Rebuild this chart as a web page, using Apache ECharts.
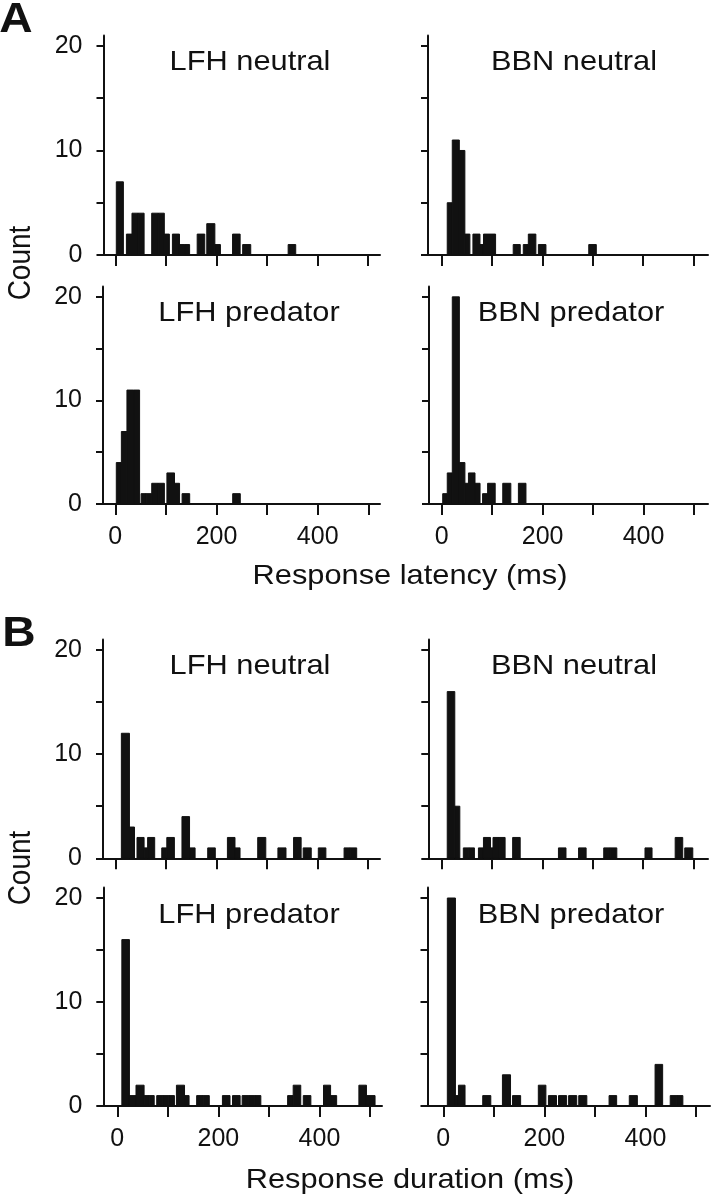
<!DOCTYPE html>
<html><head><meta charset="utf-8">
<script src="https://cdn.jsdelivr.net/npm/echarts@6/dist/echarts.min.js"></script>
<style>html,body{margin:0;padding:0;background:#fff}#c{width:711px;height:1199px}</style>
</head><body><div id="c"></div>
<script>
// Histogram bins: [bin start (ms), bin end (ms), count]
const latencyLfhNeutral = [[2,16,7],[22,33,2],[33,45,4],[45,57,4],[72,85,4],[85,97,4],[97,107,2],[113,127,2],[127,137,1],[137,147,1],[162,177,2],[181,197,3],[197,208,1],[232,247,2],[252,268,1],[342,357,1]];
const latencyBbnNeutral = [[11,21,5],[21,35,11],[35,46,10],[46,56,2],[62,76,2],[76,83,1],[83,107,2],[142,156,1],[162,172,1],[172,187,2],[192,207,1],[292,307,1]];
const latencyLfhPredator = [[2,12,4],[12,23,7],[23,36,11],[36,48,11],[51,61,1],[61,72,1],[72,85,2],[85,97,2],[102,117,3],[117,127,2],[132,147,1],[232,247,1]];
const latencyBbnPredator = [[2,11,1],[11,21,3],[21,35,20],[35,46,4],[46,53,2],[53,66,3],[66,76,2],[81,91,1],[91,106,2],[121,137,2],[152,167,2]];
const durationLfhNeutral = [[12,28,12],[28,38,3],[43,57,2],[57,64,1],[64,78,2],[92,102,1],[102,117,2],[132,147,4],[147,158,1],[183,198,1],[222,237,2],[237,247,1],[282,298,2],[322,338,1],[353,368,2],[372,388,1],[402,417,1],[453,465,1],[465,478,1]];
const durationBbnNeutral = [[11,26,16],[26,36,5],[43,54,1],[54,65,1],[73,83,1],[83,97,2],[97,102,1],[102,114,2],[114,126,2],[141,156,2],[232,247,1],[272,287,1],[322,335,1],[335,348,1],[404,418,1],[464,479,2],[483,499,1]];
const durationLfhPredator = [[9,24,16],[24,37,1],[37,53,2],[53,63,1],[63,73,1],[78,90,1],[90,102,1],[102,113,1],[117,133,2],[133,142,1],[157,170,1],[170,182,1],[208,223,1],[228,243,1],[247,260,1],[260,272,1],[272,284,1],[337,348,1],[348,363,2],[368,383,1],[408,422,2],[422,434,1],[478,493,2],[493,510,1]];
const durationBbnPredator = [[8,24,20],[24,30,1],[30,43,2],[78,94,1],[117,133,3],[137,153,1],[188,203,2],[208,224,1],[228,244,1],[248,264,1],[268,284,1],[328,343,1],[368,384,1],[419,434,4],[449,462,1],[462,474,1]];

const panelTitles = ['LFH neutral', 'BBN neutral', 'LFH predator', 'BBN predator'];
const xTickValues = [0, 100, 200, 300, 400, 500];
const xLabelValues = [0, 200, 400];
const yTickValues = [0, 5, 10, 15, 20];
const yLabelValues = [0, 10, 20];
const yMax = 21;
const xTitles = ['Response latency (ms)', 'Response duration (ms)'];
const yTitle = 'Count';
const panelLetters = ['A', 'B'];

const FONT = '"Liberation Sans", Arial, sans-serif';
const INK = '#111';

// layout (pixels)
const panels = [
  {data: latencyLfhNeutral,  title: panelTitles[0], axisPx: 103.5, zeroPx: 115.3, px500: 368, endPx: 380, zeroY: 255,   topY: 35.5, xl: false, yl: true,  tx: 250, ty: 62},
  {data: latencyBbnNeutral,  title: panelTitles[1], axisPx: 428,   zeroPx: 441.7, px500: 693.5, endPx: 708, zeroY: 255, topY: 35.5, xl: false, yl: false, tx: 574, ty: 62},
  {data: latencyLfhPredator, title: panelTitles[2], axisPx: 103,   zeroPx: 115.3, px500: 368.3, endPx: 380, zeroY: 504, topY: 286.5, xl: true,  yl: true,  tx: 249, ty: 313},
  {data: latencyBbnPredator, title: panelTitles[3], axisPx: 429,   zeroPx: 441.7, px500: 694, endPx: 708, zeroY: 504,   topY: 286.5, xl: true,  yl: false, tx: 571, ty: 313},
  {data: durationLfhNeutral,  title: panelTitles[0], axisPx: 103, zeroPx: 115.3, px500: 367.8, endPx: 380, zeroY: 858.3, topY: 639.5, xl: false, yl: true,  tx: 250, ty: 666},
  {data: durationBbnNeutral,  title: panelTitles[1], axisPx: 428.3, zeroPx: 441.7, px500: 693.3, endPx: 708, zeroY: 858.3, topY: 639.5, xl: false, yl: false, tx: 574, ty: 666},
  {data: durationLfhPredator, title: panelTitles[2], axisPx: 103.3, zeroPx: 117.3, px500: 370, endPx: 382, zeroY: 1106, topY: 887.6, xl: true,  yl: true,  tx: 249, ty: 915},
  {data: durationBbnPredator, title: panelTitles[3], axisPx: 427.5, zeroPx: 443.3, px500: 696, endPx: 710, zeroY: 1106, topY: 887.6, xl: true,  yl: false, tx: 571, ty: 915}
];

const grids = [], xAxes = [], yAxes = [], series = [];
const graphics = [];

panels.forEach((p, i) => {
  const s = (p.px500 - p.zeroPx) / 500;
  const xmin = (p.axisPx - p.zeroPx) / s;
  const xmax = (p.endPx - p.zeroPx) / s;
  grids.push({left: p.axisPx, top: p.topY, width: p.endPx - p.axisPx, height: p.zeroY - p.topY, containLabel: false, outerBoundsMode: 'none'});
  xAxes.push({
    type: 'value', gridIndex: i, min: xmin, max: xmax, position: 'bottom',
    axisLine: {show: true, onZero: false, lineStyle: {color: INK, width: 2}},
    axisTick: {show: true, length: 11, customValues: xTickValues, lineStyle: {color: INK, width: 2}},
    axisLabel: {show: p.xl, customValues: xLabelValues, margin: 21, fontSize: 25, color: INK, fontFamily: FONT},
    splitLine: {show: false}
  });
  yAxes.push({
    type: 'value', gridIndex: i, min: 0, max: yMax, position: 'left',
    axisLine: {show: true, onZero: false, lineStyle: {color: INK, width: 2}},
    axisTick: {show: true, length: 7, customValues: yTickValues, lineStyle: {color: INK, width: 2}},
    axisLabel: {show: p.yl, customValues: yLabelValues, margin: 21, fontSize: 25, color: INK, fontFamily: FONT},
    splitLine: {show: false}
  });
  series.push({
    type: 'custom', xAxisIndex: i, yAxisIndex: i, data: p.data, clip: true,
    encode: {x: [0, 1], y: 2},
    renderItem: function (params, api) {
      const a = api.coord([api.value(0), api.value(2)]);
      const b = api.coord([api.value(1), 0]);
      return {type: 'rect', shape: {x: a[0], y: a[1], width: b[0] - a[0], height: b[1] - a[1]}, style: {fill: INK, stroke: INK, lineWidth: 1}};
    }
  });
  graphics.push({type: 'text', x: p.tx, y: p.ty, scaleX: 1.1, style: {text: p.title, font: '28px ' + FONT, fill: INK, textAlign: 'center', textVerticalAlign: 'middle'}});
});

// axis titles and panel letters
graphics.push({type: 'text', x: 410, y: 576, scaleX: 1.1, style: {text: xTitles[0], font: '28px ' + FONT, fill: INK, textAlign: 'center', textVerticalAlign: 'middle'}});
graphics.push({type: 'text', x: 410, y: 1180, scaleX: 1.1, style: {text: xTitles[1], font: '28px ' + FONT, fill: INK, textAlign: 'center', textVerticalAlign: 'middle'}});
graphics.push({type: 'text', x: 22, y: 263, rotation: Math.PI / 2, scaleY: 1.1, style: {text: yTitle, font: '28px ' + FONT, fill: INK, textAlign: 'center', textVerticalAlign: 'middle'}});
graphics.push({type: 'text', x: 22, y: 868, rotation: Math.PI / 2, scaleY: 1.1, style: {text: yTitle, font: '28px ' + FONT, fill: INK, textAlign: 'center', textVerticalAlign: 'middle'}});
graphics.push({type: 'text', x: 16, y: 20, scaleX: 1.1, style: {text: panelLetters[0], font: 'bold 42px ' + FONT, fill: INK, textAlign: 'center', textVerticalAlign: 'middle'}});
graphics.push({type: 'text', x: 19, y: 634, scaleX: 1.1, style: {text: panelLetters[1], font: 'bold 42px ' + FONT, fill: INK, textAlign: 'center', textVerticalAlign: 'middle'}});

const chart = echarts.init(document.getElementById('c'), null, {renderer: 'canvas'});
chart.setOption({
  animation: false,
  backgroundColor: '#fff',
  grid: grids, xAxis: xAxes, yAxis: yAxes, series: series,
  graphic: graphics
});
</script></body></html>
